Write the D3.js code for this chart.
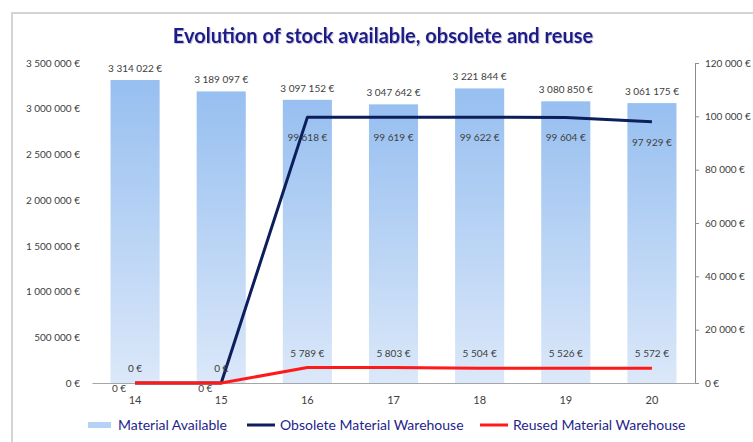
<!DOCTYPE html>
<html>
<head>
<meta charset="utf-8">
<script src="https://cdn.jsdelivr.net/npm/d3@7"></script>
<style>
  html, body { margin: 0; padding: 0; background: #fff; }
  svg { display: block; }
</style>
</head>
<body>
<svg id="chart" width="753" height="442"></svg>
<script>
const categories = ["14", "15", "16", "17", "18", "19", "20"];
const materialAvailable = [3314022, 3189097, 3097152, 3047642, 3221844, 3080850, 3061175];
const obsoleteWarehouse = [0, 0, 99618, 99619, 99622, 99604, 97929];
const reusedWarehouse = [0, 0, 5789, 5803, 5504, 5526, 5572];
const leftTicks = [0, 500000, 1000000, 1500000, 2000000, 2500000, 3000000, 3500000];
const rightTicks = [0, 20000, 40000, 60000, 80000, 100000, 120000];
const seriesNames = ["Material Available", "Obsolete Material Warehouse", "Reused Material Warehouse"];
const titleText = "Evolution of stock available, obsolete and reuse";

const svg = d3.select("#chart");
const fontFam = "Lato, 'Open Sans', sans-serif";
const loc = d3.formatLocale({ decimal: ",", thousands: "\u00a0", grouping: [3], currency: ["", "\u00a0€"] });
const fmt = v => loc.format(",.0f")(v) + "\u00a0€";

const plot = { left: 92, right: 695, top: 63, bottom: 383 };

// frame
svg.append("rect").attr("x", 12).attr("y", 13).attr("width", 800).attr("height", 500)
  .attr("fill", "#fff").attr("stroke", "#d4d4d4").attr("stroke-width", 2);

// gradient
const defs = svg.append("defs");
const grad = defs.append("linearGradient").attr("id", "barGrad")
  .attr("x1", 0).attr("y1", 0).attr("x2", 0).attr("y2", 1);
grad.append("stop").attr("offset", "0%").attr("stop-color", "#97bff0");
grad.append("stop").attr("offset", "100%").attr("stop-color", "#dbe8f9");
const filt = defs.append("filter").attr("id", "tshadow").attr("x", "-5%").attr("y", "-20%").attr("width", "110%").attr("height", "140%");
filt.append("feDropShadow").attr("dx", 0.8).attr("dy", 0.8).attr("stdDeviation", 0.6).attr("flood-color", "#8a7fbf").attr("flood-opacity", 0.6);

const x = d3.scaleBand().domain(categories).range([plot.left, plot.right]).paddingInner(0.43).paddingOuter(0.215);
const xc = d => x(d) + x.bandwidth() / 2;
const yL = d3.scaleLinear().domain([0, 3500000]).range([plot.bottom, plot.top]);
const yR = d3.scaleLinear().domain([0, 120000]).range([plot.bottom, plot.top]);

// title
svg.append("text").attr("x", 383).attr("y", 43).attr("text-anchor", "middle")
  .attr("font-family", fontFam).attr("font-weight", "bold").attr("font-size", 20)
  .attr("fill", "#1b1b86").attr("filter", "url(#tshadow)").text(titleText);

// bars
svg.append("g").selectAll("rect").data(materialAvailable).join("rect")
  .attr("x", (d, i) => x(categories[i]))
  .attr("width", x.bandwidth())
  .attr("y", d => yL(d))
  .attr("height", d => plot.bottom - yL(d))
  .attr("fill", "url(#barGrad)");

// left axis (labels only)
const gL = svg.append("g").attr("transform", `translate(${plot.left - 8},0)`)
  .call(d3.axisLeft(yL).tickValues(leftTicks).tickFormat(fmt).tickSize(0).tickPadding(4));
gL.select(".domain").remove();
gL.selectAll("text").attr("font-family", fontFam).attr("font-size", 10).attr("fill", "#404040");

// right axis
const gR = svg.append("g").attr("transform", `translate(${plot.right},0)`)
  .call(d3.axisRight(yR).tickValues(rightTicks).tickFormat(fmt).tickSize(4).tickPadding(6));
gR.select(".domain").attr("stroke", "#8c8c8c");
gR.selectAll(".tick line").attr("stroke", "#8c8c8c");
gR.selectAll("text").attr("font-family", fontFam).attr("font-size", 10).attr("fill", "#404040");

// baseline / x axis
const gX = svg.append("g").attr("transform", `translate(0,${plot.bottom})`)
  .call(d3.axisBottom(x).tickSize(0).tickPadding(13));
gX.select(".domain").attr("stroke", "#a6a6a6").attr("stroke-width", 1.2);
gX.selectAll("text").attr("font-family", fontFam).attr("font-size", 11).attr("fill", "#404040");

// bar labels
svg.append("g").selectAll("text").data(materialAvailable).join("text")
  .attr("x", (d, i) => xc(categories[i]))
  .attr("y", d => yL(d) - 8)
  .attr("text-anchor", "middle")
  .attr("font-family", fontFam).attr("font-size", 10).attr("fill", "#404040")
  .text(d => fmt(d));

// lines
const lineObs = d3.line().x((d, i) => xc(categories[i])).y(d => yR(d));
svg.append("path").datum(obsoleteWarehouse).attr("d", lineObs)
  .attr("fill", "none").attr("stroke", "#0c1f5c").attr("stroke-width", 3).attr("stroke-linejoin", "round");
svg.append("path").datum(reusedWarehouse).attr("d", lineObs)
  .attr("fill", "none").attr("stroke", "#ff1a1a").attr("stroke-width", 3).attr("stroke-linejoin", "round");

// obsolete labels (below)
svg.append("g").selectAll("text").data(obsoleteWarehouse).join("text")
  .attr("x", (d, i) => xc(categories[i]) + (d === 0 ? -16 : 0))
  .attr("y", d => yR(d) + (d === 0 ? 9 : 24))
  .attr("text-anchor", "middle")
  .attr("font-family", fontFam).attr("font-size", 10).attr("fill", "#404040")
  .text(d => fmt(d));

// reused labels (above)
svg.append("g").selectAll("text").data(reusedWarehouse).join("text")
  .attr("x", (d, i) => xc(categories[i]))
  .attr("y", d => yR(d) - 11)
  .attr("text-anchor", "middle")
  .attr("font-family", fontFam).attr("font-size", 10).attr("fill", "#404040")
  .text(d => fmt(d));

// legend
const lg = svg.append("g");
const legendItems = [
  { name: seriesNames[0], x0: 88, type: "bar" },
  { name: seriesNames[1], x0: 247, type: "obs" },
  { name: seriesNames[2], x0: 480, type: "reu" }
];
legendItems.forEach(it => {
  if (it.type === "bar") {
    lg.append("rect").attr("x", it.x0).attr("y", 422).attr("width", 23).attr("height", 6).attr("fill", "#b5d2f5");
  } else {
    lg.append("line").attr("x1", it.x0).attr("x2", it.x0 + 28).attr("y1", 425).attr("y2", 425)
      .attr("stroke", it.type === "obs" ? "#0c1f5c" : "#ff1a1a").attr("stroke-width", 3);
  }
  lg.append("text").attr("x", it.x0 + (it.type === "bar" ? 30 : 33)).attr("y", 430)
    .attr("font-family", fontFam).attr("font-size", 14).attr("fill", "#1f1f8c").text(it.name);
});
</script>
</body>
</html>
